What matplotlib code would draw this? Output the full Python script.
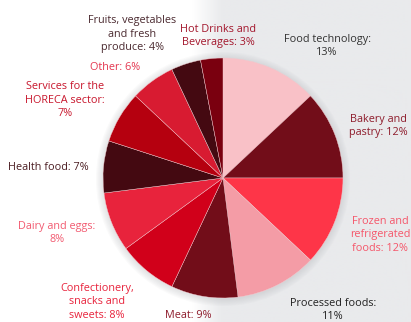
import matplotlib.pyplot as plt
import numpy as np

# Data
categories = ["Food technology", "Bakery and pastry", "Frozen and refrigerated foods",
              "Processed foods", "Meat", "Confectionery, snacks and sweets",
              "Dairy and eggs", "Health food", "Services for the HORECA sector",
              "Other", "Fruits, vegetables and fresh produce", "Hot Drinks and Beverages"]
shares = [13, 12, 12, 11, 9, 8, 8, 7, 7, 6, 4, 3]
label_texts = ["Food technology:\n13%", "Bakery and\npastry: 12%", "Frozen and\nrefrigerated\nfoods: 12%",
               "Processed foods:\n11%", "Meat: 9%", "Confectionery,\nsnacks and\nsweets: 8%",
               "Dairy and eggs:\n8%", "Health food: 7%", "Services for the\nHORECA sector:\n7%",
               "Other: 6%", "Fruits, vegetables\nand fresh\nproduce: 4%", "Hot Drinks and\nBeverages: 3%"]

# Styles
slice_colors = ["#f9c1c7", "#720d19", "#fe3548", "#f49ca6", "#720d19", "#d1001a",
                "#e8233c", "#440911", "#b5000f", "#d81b31", "#440911", "#7a000f"]
text_colors = ["#333333", "#8e1c2c", "#f5566a", "#222222", "#8e1c2c", "#e8233c",
               "#f25a70", "#4b1d22", "#c8172d", "#e4364f", "#4b2a30", "#a3162c"]
# label centres in pixels (x, y from top)
label_pos = [(327, 46), (378, 126), (380, 235), (333, 310), (188, 316), (97, 302),
             (57, 233), (48, 167), (65, 100), (115, 67), (132, 34), (218, 36)]

W, H = 411, 322
fig = plt.figure(figsize=(W / 100, H / 100), dpi=100)
ax = fig.add_axes([0, 0, 1, 1])
ax.set_xlim(0, W)
ax.set_ylim(0, H)
ax.axis("off")

# background: white on the left fading into light grey on the right
xs = np.linspace(0, W, 411)
t = np.clip((xs - 192) / 30.0, 0, 1)
white = np.array([1.0, 1.0, 1.0])
grey = np.array([0xe9, 0xea, 0xec]) / 255.0
row = white[None, :] * (1 - t[:, None]) + grey[None, :] * t[:, None]
bg = np.repeat(row[None, :, :], 2, axis=0)
ax.imshow(bg, extent=(0, W, 0, H), aspect="auto", zorder=0)

cx, cy, r = 223, H - 178, 120

# soft shadow around the pie
for i in range(6):
    ax.add_patch(plt.Circle((cx, cy - 1), r + 1 + i * 1.2, color="#b0b2b6",
                            alpha=0.06, lw=0, zorder=1))

ax.pie(shares, colors=slice_colors, startangle=90, counterclock=False,
       center=(cx, cy), radius=r, frame=True,
       wedgeprops=dict(edgecolor="#f3c9ce", linewidth=0.3, zorder=2))
ax.set_xlim(0, W)
ax.set_ylim(0, H)
ax.axis("off")

for txt, col, (px, py) in zip(label_texts, text_colors, label_pos):
    ax.text(px, H - py, txt, ha="center", va="center", color=col,
            fontsize=7.8, family="Open Sans", linespacing=1.3, zorder=5)

fig.savefig("out.png", dpi=100)
